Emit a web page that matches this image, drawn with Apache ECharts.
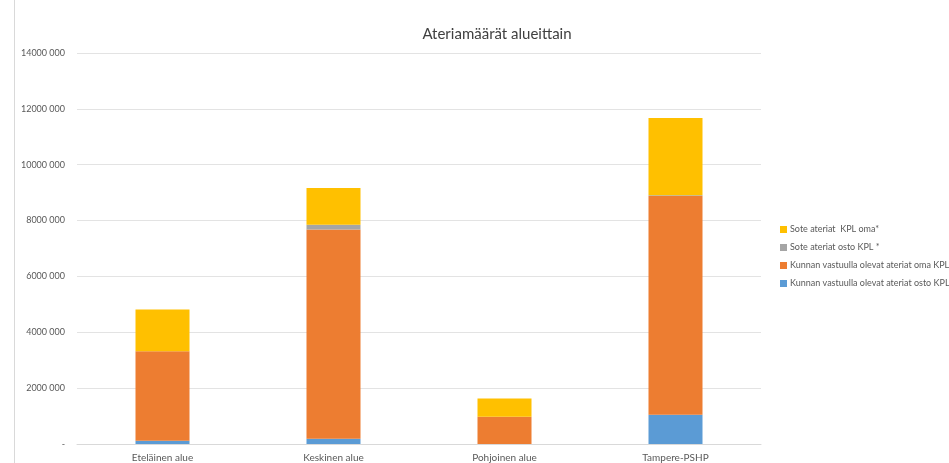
<!DOCTYPE html>
<html>
<head>
<meta charset="utf-8">
<script src="https://cdn.jsdelivr.net/npm/echarts@6/dist/echarts.min.js"></script>
<style>
  html, body { margin: 0; padding: 0; background: #fff; }
  #chart { width: 949px; height: 463px; }
</style>
</head>
<body>
<div id="chart"></div>
<script>
// alueet
var categories = ["Eteläinen alue", "Keskinen alue", "Pohjoinen alue", "Tampere-PSHP"];
// ateriat per alue
var kuntaOsto = [120000, 190000, 0, 1050000];
var kuntaOma = [3200000, 7490000, 975000, 7830000];
var soteOsto = [0, 170000, 0, 30000];
var soteOma = [1500000, 1320000, 650000, 2760000];
var yTicks = [0, 2000000, 4000000, 6000000, 8000000, 10000000, 12000000, 14000000];

var fontName = "Lato, 'Open Sans', sans-serif";

function fmt(v) {
    if (v === 0) return "-";
    return Math.floor(v / 1000) + " 000";
}

var chart = echarts.init(document.getElementById("chart"));
var option = {
    animation: false,
    textStyle: { fontFamily: fontName },
    title: {
        text: "Ateriamäärät alueittain",
        left: 492,
        textAlign: "center",
        top: 22,
        textStyle: { fontSize: 15, fontWeight: "normal", color: "#404040", fontFamily: fontName }
    },
    legend: {
        orient: "vertical",
        left: 775,
        top: 220,
        itemWidth: 7,
        itemHeight: 7,
        itemGap: 9,
        icon: "rect",
        textStyle: { fontSize: 9, color: "#595959", padding: [0, 0, 0, -2] },
        data: ["Sote ateriat  KPL oma*", "Sote ateriat osto KPL *",
            "Kunnan vastuulla olevat ateriat oma KPL", "Kunnan vastuulla olevat ateriat osto KPL"]
    },
    grid: { left: 77, right: 188, top: 53, bottom: 18, containLabel: false },
    xAxis: {
        type: "category",
        data: categories,
        axisLine: { lineStyle: { color: "#d9d9d9" } },
        axisTick: { show: false },
        axisLabel: { color: "#595959", fontSize: 10, margin: 9 }
    },
    yAxis: {
        type: "value",
        min: 0,
        max: 14000000,
        interval: 2000000,
        axisLine: { show: false },
        axisTick: { show: false },
        splitLine: { lineStyle: { color: "#e3e3e3" } },
        axisLabel: { color: "#595959", fontSize: 9, margin: 12, formatter: fmt }
    },
    series: [
        { name: "Kunnan vastuulla olevat ateriat osto KPL", type: "bar", stack: "a", data: kuntaOsto, barWidth: 54, itemStyle: { color: "#5B9BD5" } },
        { name: "Kunnan vastuulla olevat ateriat oma KPL", type: "bar", stack: "a", data: kuntaOma, itemStyle: { color: "#ED7D31" } },
        { name: "Sote ateriat osto KPL *", type: "bar", stack: "a", data: soteOsto, itemStyle: { color: "#A5A5A5" } },
        { name: "Sote ateriat  KPL oma*", type: "bar", stack: "a", data: soteOma, itemStyle: { color: "#FFC000" } }
    ],
    graphic: [
        { type: "line", shape: { x1: 14.5, y1: 0, x2: 14.5, y2: 463 }, style: { stroke: "#d9d9d9", lineWidth: 1 } }
    ]
};
chart.setOption(option);
</script>
</body>
</html>
